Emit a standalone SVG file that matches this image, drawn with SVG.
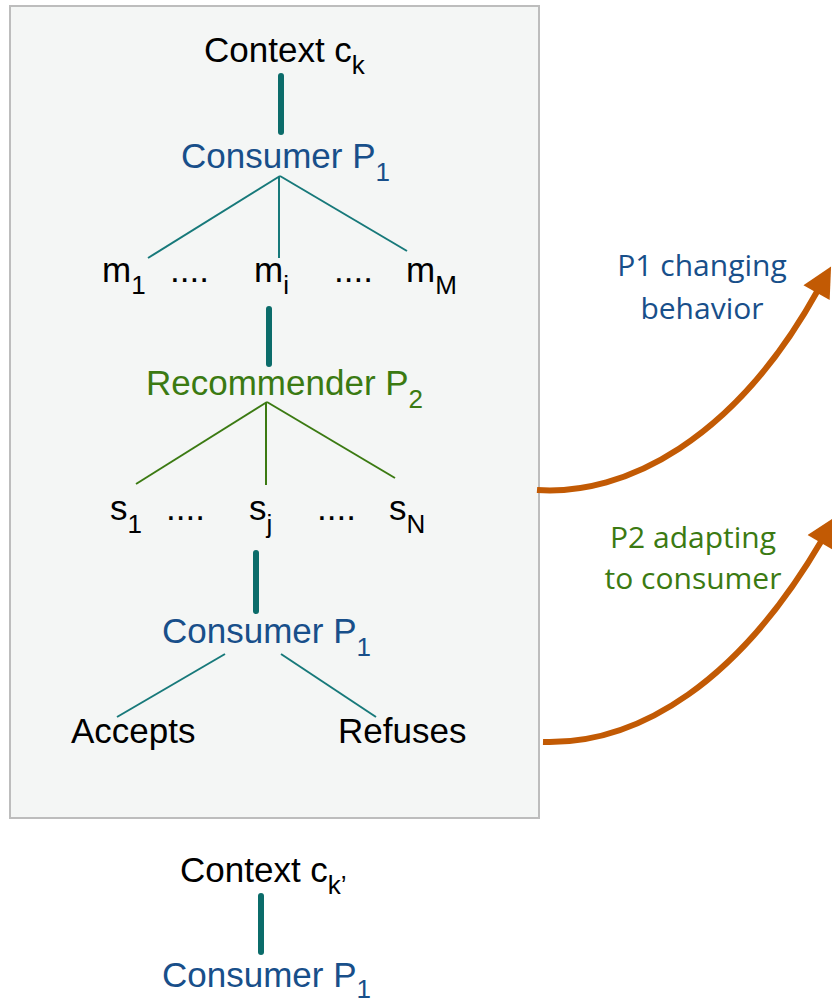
<svg xmlns="http://www.w3.org/2000/svg" width="832" height="1000" viewBox="0 0 832 1000">
<style>
.t{font-family:"Liberation Sans",Arial,sans-serif;font-size:35px;fill:#000}
.b{fill:#184f8a}
.g{fill:#3b7a12}
.sub{font-size:26px}
.lbl{font-family:"Open Sans","Liberation Sans",sans-serif;font-size:30px;text-anchor:middle}
.thick{stroke:#0b6c6a;stroke-width:6;stroke-linecap:round;fill:none}
.teal{stroke:#17797a;stroke-width:2;fill:none}
.green{stroke:#3b7a12;stroke-width:2;fill:none}
.arr{stroke:#c25a04;stroke-width:6;fill:none;marker-end:url(#ah)}
</style>
<defs>
<marker id="ah" viewBox="0 0 10 10" refX="1" refY="5" markerUnits="userSpaceOnUse" markerWidth="32" markerHeight="30" orient="auto">
<path d="M0,0 L10,5 L0,10 z" fill="#c25a04"/>
</marker>
</defs>
<rect id="frame" x="10" y="6" width="529" height="812" fill="#f4f6f5" stroke="#bdbdbd" stroke-width="2"/>
<g id="connectors">
<line class="thick" x1="281" y1="76" x2="281" y2="132"/>
<line class="teal" x1="280" y1="176" x2="148" y2="258"/>
<line class="teal" x1="279" y1="176" x2="279" y2="258"/>
<line class="teal" x1="280" y1="176" x2="407" y2="251"/>
<line class="thick" x1="269" y1="309" x2="269" y2="364"/>
<line class="green" x1="267" y1="402" x2="136" y2="484"/>
<line class="green" x1="266" y1="402" x2="266" y2="485"/>
<line class="green" x1="267" y1="402" x2="395" y2="478"/>
<line class="thick" x1="256" y1="553" x2="256" y2="611"/>
<line class="teal" x1="225" y1="654" x2="117" y2="717"/>
<line class="teal" x1="281" y1="654" x2="376" y2="717"/>
<line class="thick" x1="261" y1="896" x2="261" y2="952"/>
<path class="arr" d="M537,490 C625,496 735,440 818,290"/>
<path class="arr" d="M543,742 C640,745 740,680 822,540"/>
</g>
<g id="context-ck"><text class="t" x="204" y="62">Context c<tspan class="sub" dy="12">k</tspan></text></g>
<g id="consumer-top"><text class="t b" x="181" y="168">Consumer P<tspan class="sub" dy="13">1</tspan></text></g>
<g id="m1"><text class="t" x="102" y="282">m<tspan class="sub" dy="12">1</tspan></text></g>
<g id="mi"><text class="t" x="254" y="282">m<tspan class="sub" dy="12">i</tspan></text></g>
<g id="mM"><text class="t" x="406" y="282">m<tspan class="sub" dy="12">M</tspan></text></g>
<g id="m-dots"><text class="t" x="170" y="282">....</text><text class="t" x="334" y="282">....</text></g>
<g id="recommender"><text class="t g" x="146" y="395">Recommender P<tspan class="sub" dy="13">2</tspan></text></g>
<g id="s1"><text class="t" x="110" y="520">s<tspan class="sub" dy="13">1</tspan></text></g>
<g id="sj"><text class="t" x="249" y="520">s<tspan class="sub" dy="13">j</tspan></text></g>
<g id="sN"><text class="t" x="389" y="520">s<tspan class="sub" dy="13">N</tspan></text></g>
<g id="s-dots"><text class="t" x="166" y="520">....</text><text class="t" x="317" y="520">....</text></g>
<g id="consumer-mid"><text class="t b" x="162" y="643">Consumer P<tspan class="sub" dy="13">1</tspan></text></g>
<g id="accepts"><text class="t" x="71" y="743">Accepts</text></g>
<g id="refuses"><text class="t" x="338" y="743">Refuses</text></g>
<g id="context-ck2"><text class="t" x="180" y="882">Context c<tspan class="sub" dy="12">k’</tspan></text></g>
<g id="consumer-bottom"><text class="t b" x="162" y="987">Consumer P<tspan class="sub" dy="11">1</tspan></text></g>
<g id="label-p1"><text class="lbl b" x="702" y="276">P1 changing</text><text class="lbl b" x="702" y="319">behavior</text></g>
<g id="label-p2"><text class="lbl g" x="693" y="548">P2 adapting</text><text class="lbl g" x="693" y="589">to consumer</text></g>
</svg>
